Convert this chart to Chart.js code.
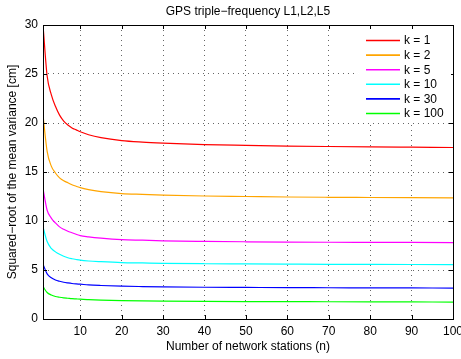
<!DOCTYPE html>
<html>
<head>
<meta charset="utf-8">
<script src="https://cdn.jsdelivr.net/npm/chart.js@4/dist/chart.umd.min.js"></script>
<style>
  html, body { margin: 0; padding: 0; background: #fff; }
  #wrap { width: 461px; height: 359px; }
</style>
</head>
<body>
<div id="wrap"><canvas id="myChart"></canvas></div>
<script>
// number of network stations
const stations = [1, 2, 3, 4, 5, 6, 7, 8, 9, 10, 12, 15, 20, 25, 30, 40, 50, 60, 70, 80, 90, 100];

// squared-root of the mean variance [cm], one array per k
const k1   = [30, 24.8, 22.9, 21.7, 20.8, 20.2, 19.8, 19.5, 19.3, 19.1, 18.8, 18.5, 18.2, 18.05, 17.95, 17.8, 17.72, 17.65, 17.6, 17.56, 17.53, 17.5];
const k2   = [20.8, 17.1, 15.6, 14.9, 14.4, 14.1, 13.9, 13.7, 13.55, 13.4, 13.2, 13.0, 12.8, 12.72, 12.65, 12.55, 12.5, 12.45, 12.42, 12.4, 12.38, 12.36];
const k5   = [13.3, 11.1, 10.3, 9.8, 9.4, 9.15, 8.95, 8.8, 8.65, 8.5, 8.38, 8.25, 8.1, 8.04, 7.98, 7.92, 7.88, 7.85, 7.83, 7.82, 7.81, 7.8];
const k10  = [9.4, 7.9, 7.2, 6.85, 6.6, 6.4, 6.25, 6.15, 6.07, 6.0, 5.92, 5.85, 5.76, 5.72, 5.68, 5.64, 5.62, 5.6, 5.58, 5.57, 5.56, 5.55];
const k30  = [5.6, 4.6, 4.2, 3.98, 3.85, 3.75, 3.68, 3.62, 3.58, 3.55, 3.48, 3.42, 3.35, 3.31, 3.28, 3.24, 3.22, 3.2, 3.19, 3.18, 3.17, 3.16];
const k100 = [3.3, 2.7, 2.45, 2.3, 2.22, 2.16, 2.12, 2.08, 2.05, 2.02, 1.98, 1.93, 1.88, 1.85, 1.83, 1.8, 1.78, 1.77, 1.76, 1.75, 1.74, 1.73];

const seriesLabels = ['k = 1', 'k = 2', 'k = 5', 'k = 10', 'k = 30', 'k = 100'];
const seriesColors = ['#ff0000', '#ffa500', '#ff00ff', '#00ffff', '#0000ff', '#00ff00'];
const xTicks = [10, 20, 30, 40, 50, 60, 70, 80, 90, 100];
const yTicks = [0, 5, 10, 15, 20, 25, 30];

const FONT = 'Liberation Sans, Arial, Helvetica, sans-serif';

const allSeries = [k1, k2, k5, k10, k30, k100];
const datasets = allSeries.map((vals, i) => ({
    label: seriesLabels[i],
    data: stations.map((n, j) => ({ x: n, y: vals[j] })),
    borderColor: seriesColors[i],
    backgroundColor: seriesColors[i],
    borderWidth: 1.2,
    pointRadius: 0,
    cubicInterpolationMode: 'monotone',
    fill: false
}));

// frame box, inward ticks, title and the legend inside the plot
const matlabLook = {
    id: 'matlabLook',
    afterDatasetsDraw(chart) {
        const ctx = chart.ctx;
        const a = chart.chartArea;
        const xs = chart.scales.x, ys = chart.scales.y;
        ctx.save();
        ctx.strokeStyle = '#000';
        ctx.lineWidth = 1;
        ctx.strokeRect(Math.round(a.left) + 0.5, Math.round(a.top) + 0.5,
            Math.round(a.right - a.left), Math.round(a.bottom - a.top));
        const tl = 4;
        ctx.beginPath();
        xTicks.forEach(v => {
            const px = Math.round(xs.getPixelForValue(v)) + 0.5;
            ctx.moveTo(px, a.bottom); ctx.lineTo(px, a.bottom - tl);
            ctx.moveTo(px, a.top); ctx.lineTo(px, a.top + tl);
        });
        yTicks.forEach(v => {
            const py = Math.round(ys.getPixelForValue(v)) + 0.5;
            ctx.moveTo(a.left, py); ctx.lineTo(a.left + tl, py);
            ctx.moveTo(a.right, py); ctx.lineTo(a.right - tl, py);
        });
        ctx.stroke();

        // title
        ctx.fillStyle = '#000';
        ctx.font = '12px ' + FONT;
        ctx.textAlign = 'center';
        ctx.textBaseline = 'middle';
        ctx.fillText('GPS triple\u2212frequency L1,L2,L5', (a.left + a.right) / 2, 12);

        // legend
        ctx.fillStyle = '#fff';
        ctx.fillRect(357, 29, 94, 92);
        chart.data.datasets.forEach((ds, i) => {
            const y = 40.5 + i * 14.6;
            ctx.strokeStyle = ds.borderColor;
            ctx.lineWidth = 1.6;
            ctx.beginPath();
            ctx.moveTo(366, y); ctx.lineTo(400, y);
            ctx.stroke();
            ctx.fillStyle = '#000';
            ctx.textAlign = 'left';
            ctx.fillText(ds.label, 404, y + 0.5);
        });
        ctx.restore();
    }
};

const ctx = document.getElementById('myChart').getContext('2d');
const myChart = new Chart(ctx, {
    type: 'line',
    data: { datasets: datasets },
    plugins: [matlabLook],
    options: {
        responsive: true,
        maintainAspectRatio: false,
        animation: false,
        layout: { padding: { top: 25, right: 8, left: 0, bottom: 0 } },
        plugins: {
            legend: { display: false },
            title: { display: false },
            tooltip: { enabled: false }
        },
        scales: {
            x: {
                type: 'linear',
                min: 1,
                max: 100,
                afterBuildTicks: scale => {
                    scale.ticks = xTicks.map(v => ({ value: v }));
                },
                afterFit: scale => {
                    scale.height = 40;
                    scale.paddingLeft = 0;
                    scale.paddingRight = 0;
                },
                grid: {
                    color: 'rgba(0,0,0,0.6)',
                    lineWidth: 1,
                    drawTicks: false
                },
                border: { display: false, dash: [1, 4] },
                ticks: {
                    color: '#000',
                    padding: 5,
                    maxRotation: 0,
                    autoSkip: false,
                    font: { family: FONT, size: 12 }
                },
                title: {
                    display: true,
                    text: 'Number of network stations (n)',
                    color: '#000',
                    padding: { top: 0, bottom: 5 },
                    font: { family: FONT, size: 12 }
                }
            },
            y: {
                min: 0,
                max: 30,
                afterBuildTicks: scale => {
                    scale.ticks = yTicks.map(v => ({ value: v }));
                },
                afterFit: scale => {
                    scale.width = 43;
                    scale.paddingTop = 0;
                    scale.paddingBottom = 0;
                },
                grid: {
                    color: 'rgba(0,0,0,0.6)',
                    lineWidth: 1,
                    drawTicks: false
                },
                border: { display: false, dash: [1, 4] },
                ticks: {
                    color: '#000',
                    padding: 5,
                    font: { family: FONT, size: 12 }
                },
                title: {
                    display: true,
                    text: 'Squared\u2212root of the mean variance [cm]',
                    color: '#000',
                    padding: { top: 5, bottom: 0 },
                    font: { family: FONT, size: 12 }
                }
            }
        }
    }
});
</script>
</body>
</html>
